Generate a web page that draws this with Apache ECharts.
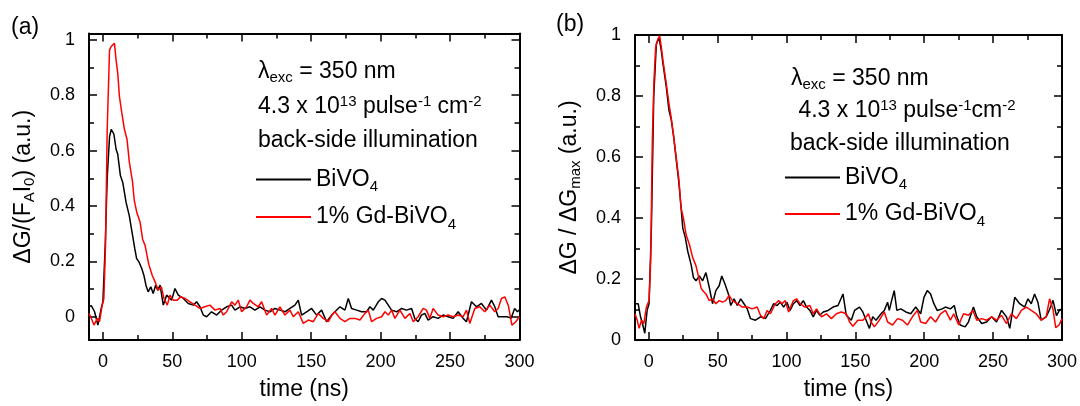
<!DOCTYPE html>
<html>
<head>
<meta charset="UTF-8">
<title>TRMC transients</title>
<script src="https://cdn.jsdelivr.net/npm/echarts@6/dist/echarts.min.js"></script>
<style>
  html, body { margin: 0; padding: 0; background: #fff; }
  #chart { width: 1080px; height: 406px; }
</style>
</head>
<body>
<div id="chart"></div>
<script>
// panel (a): ΔG/(F_A I_0), [time ns, value]
var bivoA = [[-10,0.036],[-8.3,0.04],[-6,0.018],[-3.6,-0.03],[-1.2,0.03],[0,0.054],[1.7,0.26],[3.1,0.5],[4.8,0.65],[6,0.677],[7.9,0.66],[9.5,0.605],[10.7,0.587],[12.6,0.51],[14.3,0.485],[16.7,0.413],[19,0.365],[21.4,0.293],[23,0.245],[24.3,0.21],[26,0.198],[28,0.174],[29.5,0.15],[31,0.114],[32.6,0.09],[34.5,0.108],[36.2,0.084],[38,0.114],[39.5,0.096],[41.2,0.114],[43.5,0.042],[45.9,0.078],[49.5,0.06],[51.9,0.102],[54.3,0.078],[57.9,0.066],[61.5,0.048],[65.1,0.042],[67.5,0.054],[69.9,0.036],[72.3,0.006],[74.7,0],[78.3,0.018],[81.9,0.006],[85.5,0.024],[89.1,0.036],[92.7,0.042],[95.1,0.024],[98.7,0.036],[102.3,0.03],[105.9,0.036],[109.5,0.024],[113.1,0.036],[116.7,0.024],[120.3,0.018],[123.9,0.03],[127.5,0.024],[131.1,0.018],[134.7,0.03],[138.3,0.042],[140.7,0.06],[143.1,0.006],[146.7,0.018],[150.3,0.03],[153.9,0.006],[157.5,0.024],[161.1,-0.018],[164.7,0.006],[167.1,0.018],[170.7,0.036],[174.3,0.024],[176.7,0.066],[179.1,0.03],[182.7,0.024],[186.3,0.018],[189.9,0.018],[192.3,0.036],[194.7,0.024],[198.3,0.054],[200.7,0.066],[203.1,0.06],[205.5,0.042],[207.9,0.024],[211.5,0.018],[215.1,0.03],[218.7,0.024],[222.3,0.03],[224.6,-0.006],[227,-0.018],[229.4,0.006],[231.8,0.012],[234.2,-0.012],[237.8,0],[241.4,-0.006],[245,0.006],[248.6,0],[252.2,-0.006],[255.8,0.018],[259.4,-0.006],[261.8,-0.018],[265.4,0.054],[269,0.036],[272.6,0.048],[276.2,0.024],[279.8,0.06],[282.2,0.036],[284.6,0],[288.2,0],[291,0],[294,-0.005],[296.5,0.03],[298.5,0.018],[300,0.025]];
var gdA = [[-10,0.012],[-8.3,-0.006],[-6.4,-0.03],[-4,-0.006],[-2.4,-0.018],[-0.7,0.036],[0.7,0.066],[1.9,0.257],[3.1,0.677],[4.8,0.964],[6,0.976],[7.4,0.982],[8.3,0.988],[9.5,0.928],[10.7,0.88],[11.9,0.796],[13.6,0.737],[15.5,0.677],[17.4,0.64],[19,0.56],[21.4,0.485],[22.6,0.42],[24.4,0.377],[26.8,0.341],[28.6,0.28],[30.4,0.257],[33,0.19],[35.5,0.15],[37.6,0.126],[39.8,0.096],[42.1,0.108],[44,0.066],[46.4,0.042],[48.3,0.078],[50.7,0.06],[53.6,0.06],[56,0.072],[59.1,0.066],[62.7,0.054],[66.3,0.042],[69.9,0.03],[73.5,0.036],[77.1,0.042],[80.7,0.024],[84.3,0.03],[86.7,0.006],[89.1,0.018],[92.7,0.054],[95.1,0.042],[97.5,0.06],[99.9,0.018],[103.5,0.036],[105.9,0.06],[108.3,0.048],[111.9,0.036],[114.3,0.054],[117.9,0.006],[121.5,0.03],[123.9,0.006],[127.5,0.036],[131.1,0.006],[134.7,0.024],[137.1,0],[140.7,0.018],[144.3,-0.024],[147.9,-0.012],[151.5,-0.018],[155.1,0.012],[158.7,-0.006],[162.3,-0.018],[165,0.006],[167.1,0.018],[170.7,-0.006],[174.3,-0.018],[177.9,-0.006],[181.5,-0.006],[185.1,-0.012],[188.7,0.012],[191.1,0.024],[193.5,-0.018],[197.1,-0.006],[200.7,0],[203.1,0.018],[205.5,0.006],[207.9,0.024],[210.3,-0.006],[213.9,0.024],[217.5,-0.006],[221.1,0.012],[223.5,-0.018],[227,0],[230.6,0.03],[233,0.024],[235.4,-0.006],[237.8,0.03],[241.4,0.006],[245,0],[248.6,0.006],[252.2,0],[255.8,0.006],[259.4,0],[261.8,0.024],[264.2,-0.024],[267.8,0.03],[271.4,0.036],[275,0.018],[278.6,0.042],[282.2,0.018],[284.6,0.03],[287,0.066],[289.4,0.072],[292,0.04],[294.5,-0.03],[297,-0.02],[300,0]];

// panel (b): ΔG / ΔG_max
var bivoB = [[-10,0.119],[-7.7,0.119],[-6,0.076],[-4.6,0.054],[-2.9,0.022],[-1.2,0.097],[0.2,0.119],[1.9,0.367],[3.6,0.798],[5.5,0.971],[7.4,0.992],[9.1,0.949],[10.3,0.906],[12.7,0.831],[14.6,0.755],[16.3,0.723],[18,0.669],[19.9,0.593],[21.8,0.518],[23.5,0.431],[24.7,0.367],[26.6,0.334],[28.3,0.291],[30.7,0.248],[32.4,0.205],[34.3,0.194],[36.7,0.21],[39.1,0.194],[41.5,0.221],[43.9,0.173],[46.3,0.119],[48.7,0.162],[51.1,0.178],[53,0.21],[55.4,0.183],[57.8,0.151],[59.5,0.113],[61.9,0.135],[64.3,0.113],[66.7,0.135],[69.1,0.119],[71.5,0.102],[73.9,0.07],[77.5,0.065],[81.1,0.076],[84.7,0.07],[88.3,0.097],[90.7,0.119],[93.1,0.113],[95.5,0.124],[97.9,0.108],[100.3,0.124],[102.6,0.097],[105,0.119],[107.4,0.129],[109.8,0.113],[112.2,0.129],[114.6,0.108],[117,0.097],[119.4,0.076],[121.8,0.097],[124.2,0.081],[126.6,0.092],[130.2,0.097],[133.8,0.108],[137.4,0.113],[141,0.151],[143.4,0.081],[147,0.065],[149.4,0.097],[153,0.108],[155.4,0.092],[157.8,0.065],[160.2,0.038],[162.6,0.076],[165,0.065],[168.6,0.086],[171,0.097],[173.4,0.124],[174.6,0.097],[176.3,0.129],[178.2,0.162],[180.1,0.097],[183,0.102],[186.6,0.092],[190.2,0.086],[193.8,0.108],[197.4,0.086],[199.8,0.14],[202.2,0.162],[204.6,0.151],[207,0.119],[209.4,0.097],[213,0.102],[215.4,0.108],[219,0.102],[221.8,0.113],[223.7,0.076],[226.1,0.049],[229.7,0.043],[232.1,0.059],[235.7,0.108],[238.1,0.076],[241.7,0.054],[245.3,0.059],[248.9,0.076],[252.5,0.059],[256.1,0.097],[259.7,0.076],[262.1,0.038],[265.7,0.14],[269.3,0.119],[272.9,0.108],[275.3,0.135],[277.7,0.119],[280.1,0.151],[282.5,0.124],[284.9,0.065],[288.5,0.076],[291,0.1],[293.5,0.13],[296,0.08],[298.5,0.1],[300,0.1]];
var gdB = [[-10,0.086],[-8.4,0.065],[-7,0.038],[-5.3,0.065],[-3.6,0.054],[-1.7,0.108],[0.2,0.129],[1.4,0.259],[2.6,0.658],[3.8,0.852],[5,0.96],[6.7,0.987],[7.9,0.998],[9.1,0.96],[10.3,0.917],[12.7,0.841],[14.6,0.777],[16.3,0.728],[18,0.669],[19.9,0.599],[21.8,0.529],[23.5,0.431],[25.2,0.399],[27.1,0.345],[29.5,0.313],[31.9,0.27],[34.3,0.243],[36,0.21],[38,0.17],[39.1,0.162],[41.5,0.151],[43.9,0.129],[46.3,0.135],[48.7,0.119],[51.1,0.129],[53.5,0.124],[55.9,0.129],[58.3,0.146],[60.7,0.129],[64.3,0.119],[67.9,0.108],[71.5,0.108],[75.1,0.102],[78.7,0.108],[81.1,0.081],[83.5,0.07],[85.9,0.097],[88.3,0.086],[91.9,0.119],[94.3,0.129],[96.7,0.119],[99.1,0.129],[101.5,0.092],[105,0.129],[107.4,0.135],[109.8,0.119],[113.4,0.108],[117,0.113],[119.4,0.086],[121.8,0.102],[125.4,0.076],[129,0.086],[132.6,0.07],[136.2,0.086],[139.8,0.092],[143.4,0.086],[145.8,0.059],[148.2,0.045],[151.8,0.065],[155.4,0.065],[157.8,0.076],[159.5,0.086],[161.4,0.059],[163.8,0.043],[167.4,0.065],[171,0.092],[173.4,0.059],[177,0.049],[180.6,0.07],[184.2,0.065],[187.8,0.049],[191.4,0.076],[195,0.097],[197.4,0.059],[201,0.054],[204.6,0.076],[208.2,0.059],[211.8,0.086],[215.4,0.097],[219,0.065],[221.4,0.086],[225,0.049],[228.5,0.086],[232.1,0.081],[235.3,0.097],[238.1,0.065],[241.7,0.07],[245.3,0.065],[248.9,0.076],[252.5,0.065],[256.1,0.081],[259.7,0.054],[263.3,0.086],[266.9,0.07],[270.5,0.097],[274.1,0.108],[277.7,0.097],[281.3,0.086],[284.9,0.065],[288.5,0.076],[291,0.135],[293.5,0.1],[295.5,0.04],[298,0.05],[300,0.07]];

var seriesNames = ['BiVO4', '1% Gd-BiVO4'];
var seriesColors = ['#000000', '#ff0000'];

var xMajor = [0, 50, 100, 150, 200, 250, 300];
var xMinor = [25, 75, 125, 175, 225, 275];
var yMajor = [0, 0.2, 0.4, 0.6, 0.8, 1];
var yMinor = [0.1, 0.3, 0.5, 0.7, 0.9];

var FONT = '"Liberation Sans", Arial, sans-serif';

var richText = {
  t: { fontSize: 23, fontFamily: FONT, color: '#000' },
  sub: { fontSize: 15, fontFamily: FONT, color: '#000', padding: [12, 0, 0, 0] },
  sup: { fontSize: 15, fontFamily: FONT, color: '#000', padding: [0, 0, 10, 0] },
  lsub: { fontSize: 15, fontFamily: FONT, color: '#000', padding: [15, 0, 0, 0] }
};

// one axis of the frame; main ones carry line + labels, the others only ticks
function frameAxis(g, pos, min, max, ticks, len, main, label) {
  return {
    type: 'value', gridIndex: g, position: pos, min: min, max: max,
    axisLine: { show: main, onZero: false, lineStyle: { color: '#000', width: 2 } },
    axisTick: { show: true, inside: true, length: len, customValues: ticks,
      lineStyle: { color: '#000', width: 1.5 } },
    axisLabel: { show: !!label, customValues: ticks, margin: pos === 'left' ? 14 : 13,
      color: '#000', fontSize: 18, fontFamily: FONT },
    splitLine: { show: false }
  };
}

function xAxes(g) {
  var a = frameAxis(g, 'bottom', -10, 300, xMajor, 8, true, true);
  a.name = '{t|time (ns)}';
  a.nameLocation = 'middle';
  a.nameGap = 38;
  a.nameTextStyle = { rich: richText };
  return [a,
    frameAxis(g, 'bottom', -10, 300, xMinor, 5, false),
    frameAxis(g, 'top', -10, 300, xMajor, 8, true),
    frameAxis(g, 'top', -10, 300, xMinor, 5, false)];
}

function yAxes(g, min, max, name) {
  var a = frameAxis(g, 'left', min, max, yMajor, 8, true, true);
  a.name = name;
  a.nameLocation = 'middle';
  a.nameRotate = 90;
  a.nameGap = 52;
  a.nameTextStyle = { rich: richText };
  return [a,
    frameAxis(g, 'left', min, max, yMinor, 5, false),
    frameAxis(g, 'right', min, max, yMajor, 8, true),
    frameAxis(g, 'right', min, max, yMinor, 5, false)];
}

function lineSeries(i, g, data) {
  return {
    name: seriesNames[i], type: 'line', data: data,
    xAxisIndex: g * 4, yAxisIndex: g * 4,
    symbol: 'none', smooth: false,
    lineStyle: { color: seriesColors[i], width: 1.5 },
    itemStyle: { color: seriesColors[i] },
    z: 3 + i
  };
}

function legendAt(left, top, gap) {
  return {
    data: seriesNames, orient: 'vertical', left: left, top: top, padding: 0,
    icon: 'rect', itemWidth: 55, itemHeight: 2, itemGap: gap, selectedMode: false,
    formatter: function (n) {
      return n === 'BiVO4' ? '{t|BiVO}{lsub|4}' : '{t|1% Gd-BiVO}{lsub|4}';
    },
    textStyle: { rich: richText }
  };
}

function textAt(x, y, text) {
  return {
    type: 'text', x: x, y: y,
    style: { text: text, rich: richText, fill: '#000', font: '23px ' + FONT,
      align: 'left', verticalAlign: 'middle', textAlign: 'left', textVerticalAlign: 'middle' }
  };
}

var chart = echarts.init(document.getElementById('chart'));
chart.setOption({
  animation: false,
  backgroundColor: '#fff',
  grid: [
    { left: 89, top: 33.5, width: 430.5, height: 308.2 },
    { left: 635, top: 35, width: 431, height: 308.3 }
  ],
  xAxis: xAxes(0).concat(xAxes(1)),
  yAxis: yAxes(0, -0.084, 1.023, '{t|ΔG/(F}{sub|A}{t|I}{sub|0}{t|) (a.u.)}')
    .concat(yAxes(1, 0, 1, '{t|ΔG / ΔG}{sub|max}{t| (a.u.)}')),
  legend: [legendAt(256, 168, 11), legendAt(785, 166, 10)],
  graphic: [
    textAt(11, 28, '{t|(a)}'),
    textAt(556, 25, '{t|(b)}'),
    textAt(258, 72, '{t|λ}{sub|exc}{t| = 350 nm}'),
    textAt(258, 107, '{t|4.3 x 10}{sup|13}{t| pulse}{sup|-1}{t| cm}{sup|-2}'),
    textAt(258, 141, '{t|back-side illumination}'),
    textAt(791, 79, '{t|λ}{sub|exc}{t| = 350 nm}'),
    textAt(792, 111, '{t| 4.3 x 10}{sup|13}{t| pulse}{sup|-1}{t|cm}{sup|-2}'),
    textAt(790, 144, '{t|back-side illumination}')
  ],
  series: [
    lineSeries(0, 0, bivoA), lineSeries(1, 0, gdA),
    lineSeries(0, 1, bivoB), lineSeries(1, 1, gdB)
  ]
});
</script>
</body>
</html>
